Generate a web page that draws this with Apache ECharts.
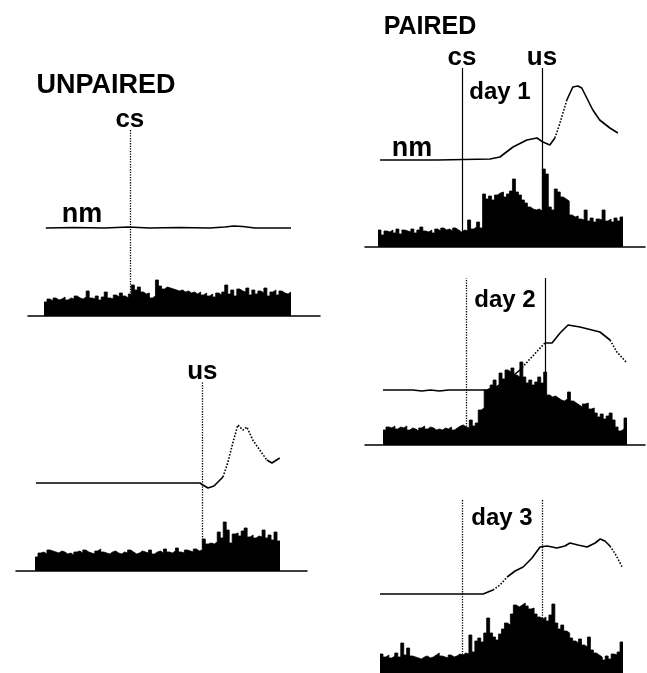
<!DOCTYPE html>
<html>
<head>
<meta charset="utf-8">
<script src="https://cdn.jsdelivr.net/npm/echarts@6/dist/echarts.min.js"></script>
<style>html,body{margin:0;padding:0;background:#fff}#c{width:647px;height:673px}</style>
</head>
<body>
<div id="c"></div>
<script>
// ---- data: histogram counts (82 bins per panel) ----
const N = 82;
const histUnpairedCS = [14,17,15,18,16,17,19,16,18,17,20,18,17,19,
  25,18,17,20,16,19,24,18,17,21,19,23,20,18,22,
  31,26,29,24,22,23,18,20,
  36,30,27,29,28,27,26,25,26,24,25,23,24,22,
  24,21,23,20,22,19,23,21,24,31,22,26,20,27,25,
  24,28,21,26,22,25,23,28,20,24,26,21,25,23,22,24];
const histUnpairedUS = [14,18,19,17,21,20,19,18,20,19,17,18,16,19,20,18,21,19,18,17,
  20,22,19,18,17,19,20,18,17,19,18,21,19,17,18,20,19,18,21,17,
  19,20,18,22,19,18,20,23,19,18,21,20,19,22,20,21,
  32,27,28,27,29,39,33,49,41,28,37,38,35,40,43,34,36,33,35,34,41,33,36,31,39,30];
const histDay1 = [17,12,16,15,17,14,18,13,17,16,15,18,14,17,20,16,15,17,14,18,
  16,19,17,18,16,19,17,15,
  17,16,27,18,20,25,19,
  53,48,51,47,52,54,55,50,53,56,68,55,52,47,44,40,38,37,38,36,
  78,73,40,37,58,55,50,48,46,32,30,31,
  28,27,37,26,29,25,28,27,37,26,28,25,29,26,30];
const histDay2 = [15,18,17,19,16,18,17,19,15,17,16,14,17,19,16,18,17,15,16,15,
  17,16,18,15,17,19,20,18,17,25,19,
  22,35,37,55,57,
  60,65,58,72,66,75,73,77,70,68,83,
  68,62,65,60,63,68,62,73,
  50,48,49,47,45,44,46,53,44,
  42,40,38,41,42,36,37,32,28,31,26,29,32,25,18,14,16,27];
const histDay3 = [19,16,18,15,17,20,16,30,18,25,17,16,15,14,16,17,15,16,18,20,
  17,16,15,18,16,17,19,18,
  20,19,38,21,32,35,31,40,55,40,36,33,39,
  44,50,48,59,68,66,68,70,67,64,65,59,56,54,56,52,58,69,
  50,44,48,42,40,35,32,30,34,28,26,36,
  23,20,18,16,13,17,14,19,18,21,31];

// ---- data: nictitating membrane (nm) traces [bin, rise] ----
const nmUnpairedCS = [[0.6,0],[10,0.5],[20,0],[28,1],[35,0],[45,0.5],[55,0],[60,1],[63,2],[66,1.5],[70,0],[82,0]];
const nmUnpairedUS = [[0.3,0],[55.2,0],[56.2,-2],[57.9,-5],[59.9,-3],[62.9,6],[64.5,20],[66.2,40],[67.9,58],[69.6,53],[70.9,56],[72.9,43],[75.2,33],[77.6,23],[79.3,20],[81.9,25]];
const nmDay1 = [[0.7,0],[20,0],[37.5,1],[40.8,3],[45.2,13],[49.8,20],[53.2,22],[55.2,18],[57.5,15],[59.2,22],[60.9,37],[63.2,60],[65.2,73],[66.9,74],[68.2,72],[71.9,50],[74.2,40],[77.6,32],[80.3,27]];
const nmDay2 = [[0,0],[10,0],[13,-1],[16,0],[19,-1],[22,0],[35,0],[38,3],[42,10],[46,20],[50,33],[54.4,47],[56.8,47],[59.5,57],[62.2,65],[66.2,63],[72.9,58],[76.3,50],[78.6,38],[82,27]];
const nmDay3 = [[0,0],[34.8,0],[38.1,4],[40.5,9],[42.9,17],[45.6,23],[48.3,27],[51.3,36],[54,47],[56.4,48],[59.7,46],[62.4,48],[64.1,51],[66.8,49],[69.9,47],[72.6,51],[74.3,55],[75.9,53],[77.6,48],[79.6,39],[81.7,27]];

// ---- events (bin index) ----
const csBin = [28.5, null, 28.1, 27.9, 27.7];
const usBin = [null, 56, 54.9, 54.4, 54.7];

// ---- text ----
const titles = ['UNPAIRED', 'PAIRED'];
const dayLabels = ['day 1', 'day 2', 'day 3'];

// ---- layout (pixels) ----
const FONT = '"Liberation Sans", Arial, sans-serif';
const panels = [
  {hist: histUnpairedCS, nm: nmUnpairedCS, dotted: [], axisL: 28, axisR: 320, histL: 44, histR: 291, top: 130, base: 316, nmFlat: 228,
   marks: [{bin: csBin[0], label: 'cs', type: 'dotted'}], showAxis: true},
  {hist: histUnpairedUS, nm: nmUnpairedUS, dotted: [[62.9, 77.6]], axisL: 16, axisR: 307, histL: 35, histR: 280, top: 382, base: 571, nmFlat: 483,
   marks: [{bin: usBin[1], label: 'us', type: 'dotted'}], showAxis: true},
  {hist: histDay1, nm: nmDay1, dotted: [[59.2, 63.2]], axisL: 365, axisR: 645, histL: 378, histR: 623, top: 68, base: 247, nmFlat: 160,
   marks: [{bin: csBin[2], label: 'cs', type: 'solid'}, {bin: usBin[2], label: 'us', type: 'solid'}], showAxis: true},
  {hist: histDay2, nm: nmDay2, dotted: [[46, 54.4], [76.3, 82]], axisL: 365, axisR: 645, histL: 383, histR: 627, top: 278, base: 445, nmFlat: 390,
   marks: [{bin: csBin[3], type: 'dotted'}, {bin: usBin[3], type: 'solid'}], showAxis: true},
  {hist: histDay3, nm: nmDay3, dotted: [[38.1, 42.9], [77.6, 81.7]], axisL: 370, axisR: 647, histL: 380, histR: 623, top: 500, base: 673, nmFlat: 594,
   marks: [{bin: csBin[4], type: 'dotted'}, {bin: usBin[4], type: 'dotted'}], showAxis: false}
];

function runs(pts, ranges) {
  const inR = (a, b) => ranges.some(r => a >= r[0] - 1e-9 && b <= r[1] + 1e-9);
  const out = [];
  for (let i = 0; i < pts.length - 1; i++) {
    const d = inR(pts[i][0], pts[i + 1][0]);
    const last = out[out.length - 1];
    if (last && last.dotted === d) last.pts.push(pts[i + 1]);
    else out.push({dotted: d, pts: [pts[i], pts[i + 1]]});
  }
  return out;
}

const option = {animation: false, grid: [], xAxis: [], yAxis: [], series: [], graphic: []};

panels.forEach((p, k) => {
  const ppb = (p.histR - p.histL) / N;
  option.grid.push({left: p.axisL, top: p.top, width: p.axisR - p.axisL, height: p.base - p.top});
  option.xAxis.push({type: 'value', gridIndex: k, min: -(p.histL - p.axisL) / ppb, max: N + (p.axisR - p.histR) / ppb,
    axisLine: {show: p.showAxis, onZero: false, lineStyle: {color: '#000', width: 1.5}},
    axisTick: {show: false}, axisLabel: {show: false}, splitLine: {show: false}});
  option.yAxis.push({type: 'value', gridIndex: k, min: 0, max: p.base - p.top, show: false, splitLine: {show: false}});
  option.yAxis.push({type: 'value', gridIndex: k, min: -(p.base - p.nmFlat), max: p.nmFlat - p.top, show: false, splitLine: {show: false}});

  option.series.push({
    type: 'line', xAxisIndex: k, yAxisIndex: 2 * k, step: 'end', symbol: 'none', silent: true, z: 3,
    data: p.hist.map((v, i) => [i, v]).concat([[N, p.hist[N - 1]]]),
    lineStyle: {color: '#000', width: 0.8}, areaStyle: {color: '#000', opacity: 1},
    markLine: {
      silent: true, symbol: ['none', 'none'], animation: false,
      data: p.marks.map(m => ({
        xAxis: m.bin,
        lineStyle: {color: '#000', type: m.type, width: m.type === 'dotted' ? 1.3 : 1.2},
        label: {show: !!m.label, formatter: m.label || '', position: 'end', distance: -3,
          color: '#000', fontSize: 26, fontWeight: 'bold', fontFamily: FONT}
      }))
    }
  });

  runs(p.nm, p.dotted).forEach(r => {
    option.series.push({
      type: 'line', xAxisIndex: k, yAxisIndex: 2 * k + 1, symbol: 'none', silent: true, z: 4,
      data: r.pts, lineStyle: {color: '#000', width: 1.6, type: r.dotted ? 'dotted' : 'solid'}
    });
  });
});

const txt = (s, x, y, size) => ({type: 'text', x: x, y: y, silent: true, z: 10,
  style: {text: s, fill: '#000', font: 'bold ' + size + 'px ' + FONT, textAlign: 'center', textVerticalAlign: 'middle'}});
option.graphic = [
  txt(titles[0], 106, 86, 27),
  txt(titles[1], 430, 27, 25),
  txt('nm', 82, 215, 27),
  txt('nm', 412, 149, 27),
  txt(dayLabels[0], 500, 92, 24),
  txt(dayLabels[1], 505, 300, 24),
  txt(dayLabels[2], 502, 518, 24)
];

const chart = echarts.init(document.getElementById('c'), null, {renderer: 'canvas'});
chart.setOption(option);
</script>
</body>
</html>
